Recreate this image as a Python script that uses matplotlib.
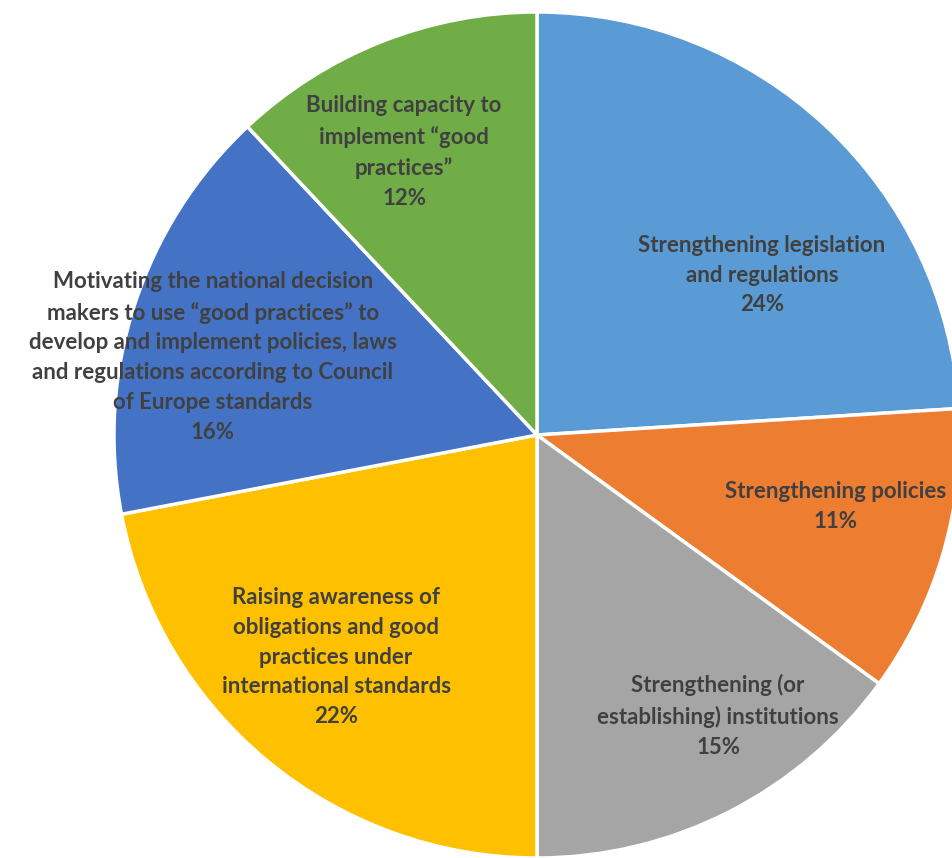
import matplotlib
matplotlib.use("Agg")
import matplotlib.pyplot as plt

labels = [
    "Strengthening legislation\nand regulations",
    "Strengthening policies",
    "Strengthening (or\nestablishing) institutions",
    "Raising awareness of\nobligations and good\npractices under\ninternational standards",
    "Motivating the national decision\nmakers to use \u201cgood practices\u201d to\ndevelop and implement policies, laws\nand regulations according to Council\nof Europe standards",
    "Building capacity to\nimplement \u201cgood\npractices\u201d",
]
shares = [24, 11, 15, 22, 16, 12]
colors = ["#5B9BD5", "#ED7D31", "#A5A5A5", "#FFC000", "#4472C4", "#70AD47"]

# label centres in pie units (radius = 1), hand-placed like the original
label_pos = [(0.532, 0.378), (0.705, -0.170), (0.428, -0.664),
             (-0.475, -0.525), (-0.766, 0.184), (-0.314, 0.669)]

fig = plt.figure(figsize=(9.52, 8.58), dpi=100)
ax = fig.add_axes([0, 0, 1, 1])
ax.pie(shares, colors=colors, startangle=90, counterclock=False, radius=1,
       wedgeprops=dict(edgecolor="white", linewidth=2.5))

for lab, val, (x, y) in zip(labels, shares, label_pos):
    ax.text(x, y, f"{lab}\n{val}%", ha="center", va="center",
            fontsize=16, fontweight="bold", color="#404040",
            family=["Lato", "DejaVu Sans"], linespacing=1.52)

sc = 423.0
ax.set_xlim(-537 / sc, (952 - 537) / sc)
ax.set_ylim(-(858 - 435) / sc, 435 / sc)
ax.set_aspect("auto")
ax.axis("off")
fig.savefig("out.png", dpi=100, facecolor="white")
